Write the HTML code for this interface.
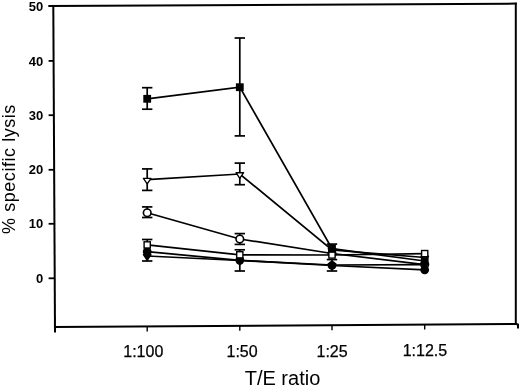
<!DOCTYPE html>
<html><head><meta charset="utf-8"><title>% specific lysis vs T/E ratio</title>
<style>html,body{margin:0;padding:0;background:#fff;}body{width:520px;height:387px;overflow:hidden;}svg{display:block;}</style>
</head><body>
<svg width="520" height="387" viewBox="0 0 520 387">
<rect width="520" height="387" fill="#fff"/>
<g stroke="#000" stroke-width="2" fill="none" stroke-linecap="butt">
<line x1="48.3" y1="6.0" x2="516.8" y2="3.6"/>
<line x1="53.3" y1="5.2" x2="55.0" y2="332.5"/>
<line x1="54" y1="327.0" x2="517" y2="324.0"/>
<line x1="515.8" y1="2.8" x2="515.8" y2="325"/>
<path d="M515.8 324 L518 324.6 L518 328.6"/>
</g>
<g stroke="#000" stroke-width="1.8">
<line x1="48.6" y1="60.9" x2="54" y2="60.9"/>
<line x1="48.6" y1="115.2" x2="54" y2="115.2"/>
<line x1="48.6" y1="169.8" x2="54" y2="169.8"/>
<line x1="48.6" y1="223.8" x2="54" y2="223.8"/>
<line x1="48.6" y1="278.3" x2="54" y2="278.3"/>
</g>
<g stroke="#000" stroke-width="1.4">
<line x1="147.2" y1="326.4" x2="147.2" y2="331.4"/>
<line x1="239.8" y1="325.8" x2="239.8" y2="330.8"/>
<line x1="332.0" y1="325.2" x2="332.0" y2="330.2"/>
<line x1="424.7" y1="324.6" x2="424.7" y2="329.6"/>
</g>
<g font-family="Liberation Sans, Arial, sans-serif" font-weight="bold" font-size="13" text-anchor="end" fill="#000">
<text x="43.2" y="10.6">50</text>
<text x="43.2" y="65.5">40</text>
<text x="43.2" y="119.8">30</text>
<text x="43.2" y="174.4">20</text>
<text x="43.2" y="228.4">10</text>
<text x="43.2" y="282.9">0</text>
</g>
<g font-family="Liberation Sans, Arial, sans-serif" font-size="16" text-anchor="middle" fill="#000" stroke="#000" stroke-width="0.25">
<text x="143.3" y="356.6">1:100</text>
<text x="242.1" y="356.6">1:50</text>
<text x="332.1" y="357.4">1:25</text>
<text x="424.9" y="356.1">1:12.5</text>
</g>
<text x="282.5" y="384.6" font-family="Liberation Sans, Arial, sans-serif" font-size="20" text-anchor="middle">T/E ratio</text>
<text transform="translate(14.8 169) rotate(-90)" font-family="Liberation Sans, Arial, sans-serif" font-size="18" letter-spacing="0.55" text-anchor="middle">% specific lysis</text>
<g><polyline points="147.2,212.8 239.8,239.0 332.0,253.5 424.7,264.6" fill="none" stroke="#000" stroke-width="1.7"/><polyline points="147.2,179.6 239.8,174.0 332.0,250.0 424.7,257.5" fill="none" stroke="#000" stroke-width="1.7"/><polyline points="147.2,256.0 239.8,260.5 332.0,265.0 424.7,264.6" fill="none" stroke="#000" stroke-width="1.7"/><polyline points="147.2,251.7 239.8,260.3 332.0,265.5 424.7,269.8" fill="none" stroke="#000" stroke-width="1.7"/><polyline points="147.2,244.9 239.8,254.8 332.0,255.0 424.7,253.6" fill="none" stroke="#000" stroke-width="1.7"/><polyline points="147.2,98.8 239.8,87.2 332.0,248.7 424.7,261.0" fill="none" stroke="#000" stroke-width="1.7"/></g>
<g stroke="#000" stroke-width="1.7"><line x1="147.2" y1="206.9" x2="147.2" y2="217.5"/><line x1="142.0" y1="206.9" x2="152.4" y2="206.9"/><line x1="142.0" y1="217.5" x2="152.4" y2="217.5"/><line x1="239.8" y1="233.6" x2="239.8" y2="244.4"/><line x1="234.6" y1="233.6" x2="245.0" y2="233.6"/><line x1="234.6" y1="244.4" x2="245.0" y2="244.4"/><line x1="147.2" y1="168.9" x2="147.2" y2="190.4"/><line x1="142.0" y1="168.9" x2="152.4" y2="168.9"/><line x1="142.0" y1="190.4" x2="152.4" y2="190.4"/><line x1="239.8" y1="163.1" x2="239.8" y2="184.7"/><line x1="234.6" y1="163.1" x2="245.0" y2="163.1"/><line x1="234.6" y1="184.7" x2="245.0" y2="184.7"/><line x1="147.2" y1="251.7" x2="147.2" y2="261.0"/><line x1="142.0" y1="261.0" x2="152.4" y2="261.0"/><line x1="239.8" y1="260.3" x2="239.8" y2="271.0"/><line x1="234.6" y1="271.0" x2="245.0" y2="271.0"/><line x1="332.0" y1="259.6" x2="332.0" y2="271.0"/><line x1="326.8" y1="259.6" x2="337.2" y2="259.6"/><line x1="326.8" y1="271.0" x2="337.2" y2="271.0"/><line x1="147.2" y1="239.5" x2="147.2" y2="244.9"/><line x1="142.0" y1="239.5" x2="152.4" y2="239.5"/><line x1="239.8" y1="249.8" x2="239.8" y2="254.8"/><line x1="234.6" y1="249.8" x2="245.0" y2="249.8"/><line x1="147.2" y1="87.7" x2="147.2" y2="109.2"/><line x1="142.0" y1="87.7" x2="152.4" y2="87.7"/><line x1="142.0" y1="109.2" x2="152.4" y2="109.2"/><line x1="239.8" y1="38.0" x2="239.8" y2="135.9"/><line x1="234.6" y1="38.0" x2="245.0" y2="38.0"/><line x1="234.6" y1="135.9" x2="245.0" y2="135.9"/><line x1="332.0" y1="244.1" x2="332.0" y2="248.7"/><line x1="326.8" y1="244.1" x2="337.2" y2="244.1"/></g>
<g><circle cx="147.2" cy="212.8" r="3.8" fill="#fff" stroke="#000" stroke-width="1.6"/><circle cx="239.8" cy="239.0" r="3.8" fill="#fff" stroke="#000" stroke-width="1.6"/><circle cx="332.0" cy="253.5" r="3.8" fill="#fff" stroke="#000" stroke-width="1.6"/><circle cx="424.7" cy="264.6" r="3.8" fill="#fff" stroke="#000" stroke-width="1.6"/><polygon points="143.4,178.3 151.0,178.3 147.2,183.9" fill="#fff" stroke="#000" stroke-width="1.35" stroke-linejoin="round"/><polygon points="236.0,172.7 243.6,172.7 239.8,178.3" fill="#fff" stroke="#000" stroke-width="1.35" stroke-linejoin="round"/><polygon points="328.2,248.7 335.8,248.7 332.0,254.3" fill="#fff" stroke="#000" stroke-width="1.35" stroke-linejoin="round"/><polygon points="420.9,256.2 428.5,256.2 424.7,261.8" fill="#fff" stroke="#000" stroke-width="1.35" stroke-linejoin="round"/><polygon points="143.4,254.7 151.0,254.7 147.2,260.3" fill="#000" stroke="#000" stroke-width="1.35" stroke-linejoin="round"/><polygon points="236.0,259.2 243.6,259.2 239.8,264.8" fill="#000" stroke="#000" stroke-width="1.35" stroke-linejoin="round"/><polygon points="328.2,263.7 335.8,263.7 332.0,269.3" fill="#000" stroke="#000" stroke-width="1.35" stroke-linejoin="round"/><polygon points="420.9,263.3 428.5,263.3 424.7,268.9" fill="#000" stroke="#000" stroke-width="1.35" stroke-linejoin="round"/><circle cx="147.2" cy="251.7" r="4.4" fill="#000"/><circle cx="239.8" cy="260.3" r="4.4" fill="#000"/><circle cx="332.0" cy="265.5" r="4.4" fill="#000"/><circle cx="424.7" cy="269.8" r="4.4" fill="#000"/><rect x="144.10" y="241.80" width="6.20" height="6.20" fill="#fff" stroke="#000" stroke-width="1.4"/><rect x="236.70" y="251.70" width="6.20" height="6.20" fill="#fff" stroke="#000" stroke-width="1.4"/><rect x="328.90" y="251.90" width="6.20" height="6.20" fill="#fff" stroke="#000" stroke-width="1.4"/><rect x="421.60" y="250.50" width="6.20" height="6.20" fill="#fff" stroke="#000" stroke-width="1.4"/><rect x="143.3" y="94.9" width="7.8" height="7.8" fill="#000"/><rect x="235.9" y="83.3" width="7.8" height="7.8" fill="#000"/><rect x="328.1" y="244.8" width="7.8" height="7.8" fill="#000"/><rect x="420.8" y="257.1" width="7.8" height="7.8" fill="#000"/></g>
</svg>
</body></html>
